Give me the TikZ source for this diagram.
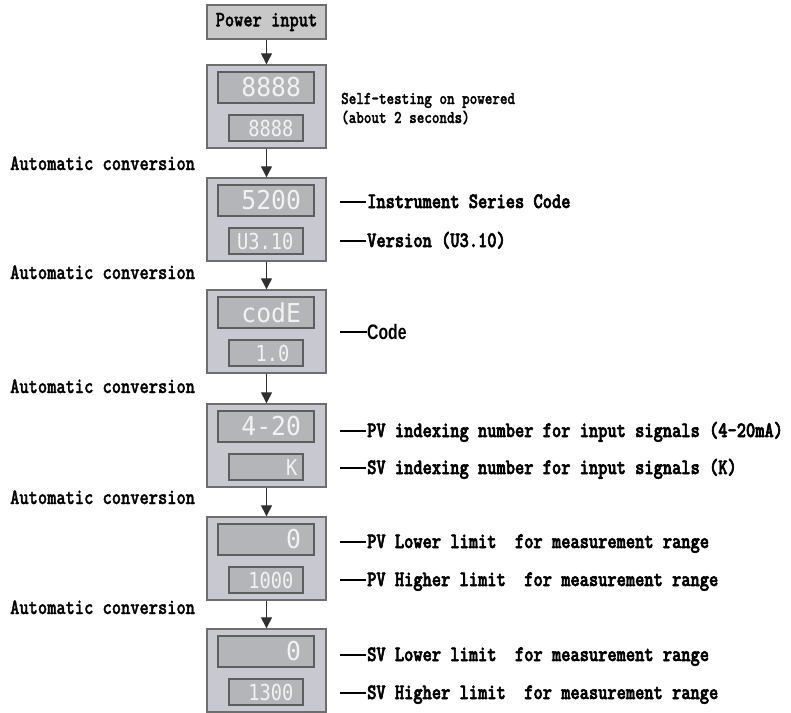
\documentclass[tikz,border=0pt]{standalone}
\usepackage{fontspec}
\usetikzlibrary{arrows.meta}
\newfontfamily\lblfont[FakeStretch=0.8,FakeBold=2.6]{lmmonolt10-bold.otf}
\newfontfamily\autofont[FakeStretch=0.8,FakeBold=1.4]{lmmonolt10-bold.otf}
\newfontfamily\codefont[FakeStretch=0.75,BoldFeatures={FakeStretch=0.75}]{Liberation Sans}
\newfontfamily\segbig[FakeStretch=0.95]{DejaVu Sans Mono}
\newfontfamily\segsmall[FakeStretch=0.85]{DejaVu Sans Mono}
\definecolor{boxfill}{HTML}{C8C9D0}
\definecolor{boxedge}{HTML}{6E6E6E}
\definecolor{dispfill}{HTML}{B4B5B9}
\definecolor{dispedge}{HTML}{5E5E5E}
\definecolor{segcol}{HTML}{F2F2F2}
\definecolor{pwrfill}{HTML}{C8C8C8}
\definecolor{arrcol}{HTML}{303030}
\newcommand\mydash{\rule[5pt]{26pt}{1.6pt}\hspace{1pt}}
\tikzset{
  unitbox/.style={draw=boxedge, fill=boxfill, line width=1.4pt, minimum width=119pt, minimum height=83pt, inner sep=0pt},
  topdisp/.style={draw=dispedge, fill=dispfill, line width=1.2pt, minimum width=96pt, minimum height=31pt, inner sep=0pt},
  botdisp/.style={draw=dispedge, fill=dispfill, line width=1.2pt, minimum width=74pt, minimum height=26pt, inner sep=0pt},
  bigdig/.style={inner sep=0pt, anchor=east, text=segcol, font=\segbig\fontsize{26}{26}\selectfont},
  smalldig/.style={inner sep=0pt, anchor=east, text=segcol, font=\segsmall\fontsize{22}{22}\selectfont},
  lbl/.style={inner sep=0pt, anchor=base west, font=\lblfont\fontsize{22}{22}\selectfont},
  small lbl/.style={inner sep=0pt, anchor=base west, font=\autofont\fontsize{18}{18}\selectfont},
  autolbl/.style={inner sep=0pt, anchor=base west, font=\autofont\fontsize{22}{22}\selectfont},
  arr/.style={draw=arrcol, line width=1.3pt, -{Triangle[width=11pt,length=11pt]}},
}
\begin{document}
\begin{tikzpicture}[x=1pt,y=1pt]
\path[use as bounding box] (0,0) rectangle (791,-712);
% power input
\node[draw=boxedge, fill=pwrfill, line width=1.4pt, minimum width=119pt, minimum height=34pt, inner sep=0pt,
      font=\autofont\fontsize{22}{22}\selectfont] (p) at (266.5,-22) {Power input};
% unit boxes
\foreach \n/\t in {2/65,3/178,4/290,5/404,6/517,7/629}{
  \node[unitbox] (b\n) at (266.5,-\t-41.5) {};
  \node[topdisp] (t\n) at (266,-\t-22.5) {};
  \node[botdisp] (s\n) at (266,-\t-63) {};
}
% digits
\node[bigdig] (dt2) at ([xshift=-13.5pt]t2.east) {8888};
\node[smalldig] (ds2) at ([xshift=-10pt]s2.east) {8888};
\node[bigdig] (dt3) at ([xshift=-13.5pt]t3.east) {5200};
\node[smalldig] (ds3) at ([xshift=-10pt]s3.east) {U3.10};
\node[bigdig] (dt4) at ([xshift=-13.5pt]t4.east) {codE};
\node[smalldig] (ds4) at ([xshift=-14pt]s4.east) {1.0};
\node[bigdig] (dt5) at ([xshift=-13.5pt]t5.east) {4-20};
\node[smalldig] (ds5) at ([xshift=-6pt]s5.east) {K};
\node[bigdig] (dt6) at ([xshift=-13.5pt]t6.east) {0};
\node[smalldig] (ds6) at ([xshift=-10pt]s6.east) {1000};
\node[bigdig] (dt7) at ([xshift=-13.5pt]t7.east) {0};
\node[smalldig] (ds7) at ([xshift=-10pt]s7.east) {1300};
% arrows
\draw[arr] (p.south) -- (b2.north);
\draw[arr] (b2.south) -- (b3.north);
\draw[arr] (b3.south) -- (b4.north);
\draw[arr] (b4.south) -- (b5.north);
\draw[arr] (b5.south) -- (b6.north);
\draw[arr] (b6.south) -- (b7.north);
% automatic conversion labels
\node[autolbl] (a1) at (10,-170) {Automatic conversion};
\node[autolbl] (a2) at (10,-279) {Automatic conversion};
\node[autolbl] (a3) at (10,-393) {Automatic conversion};
\node[autolbl] (a4) at (10,-504) {Automatic conversion};
\node[autolbl] (a5) at (10,-614) {Automatic conversion};
% right labels
\node[small lbl] (st1) at (341,-104) {Self-testing on powered};
\node[small lbl] (st2) at (341,-123) {(about 2 seconds)};
\node[lbl] (l3a) at (340,-208) {\mydash Instrument Series Code};
\node[lbl] (l3b) at (340,-247) {\mydash Version (U3.10)};
\node[inner sep=0pt, anchor=base west, font=\codefont\bfseries\fontsize{21}{21}\selectfont] (l4a) at (340,-339) {\rule[6pt]{27pt}{1.8pt}Code};
\node[lbl] (l5a) at (340,-437) {\mydash PV indexing number for input signals (4-20mA)};
\node[lbl] (l5b) at (340,-474) {\mydash SV indexing number for input signals (K)};
\node[lbl] (l6a) at (340,-548) {\mydash PV Lower limit\ \ for measurement range};
\node[lbl] (l6b) at (340,-586) {\mydash PV Higher limit\ \ for measurement range};
\node[lbl] (l7a) at (340,-661) {\mydash SV Lower limit\ \ for measurement range};
\node[lbl] (l7b) at (340,-699) {\mydash SV Higher limit\ \ for measurement range};
\end{tikzpicture}
\end{document}
